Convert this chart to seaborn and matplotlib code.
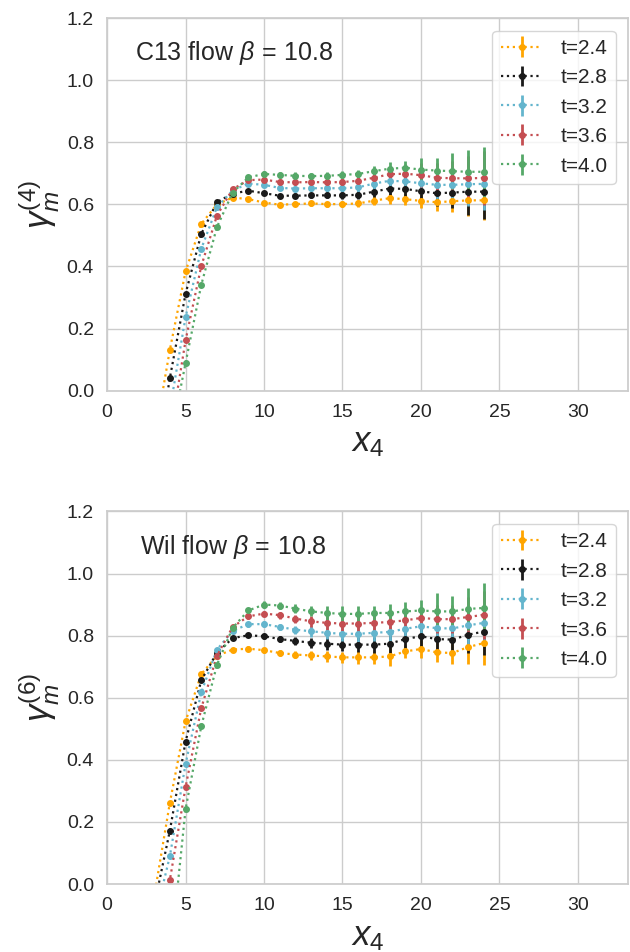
import matplotlib
matplotlib.use("Agg")
import matplotlib.pyplot as plt
import seaborn as sns

# time labels and colours (seaborn color codes)
t_labels = ["t=2.4", "t=2.8", "t=3.2", "t=3.6", "t=4.0"]
colors = ["orange", "k", "c", "r", "g"]

x4 = list(range(3, 25))

# C13 flow, gamma_m^(4)
c13_t24 = [-0.16, 0.132, 0.384, 0.537, 0.600, 0.622, 0.617, 0.606, 0.599, 0.601, 0.603,
           0.601, 0.601, 0.603, 0.612, 0.620, 0.617, 0.611, 0.607, 0.610, 0.613, 0.613]
c13_t28 = [-0.27, 0.041, 0.312, 0.505, 0.607, 0.635, 0.644, 0.636, 0.628, 0.628, 0.629,
           0.629, 0.629, 0.631, 0.641, 0.651, 0.650, 0.642, 0.636, 0.638, 0.641, 0.641]
c13_t32 = [-0.35, -0.06, 0.237, 0.457, 0.591, 0.645, 0.667, 0.663, 0.653, 0.651, 0.652,
           0.652, 0.652, 0.655, 0.667, 0.676, 0.674, 0.668, 0.663, 0.663, 0.665, 0.666]
c13_t36 = [-0.42, -0.15, 0.162, 0.401, 0.564, 0.649, 0.678, 0.680, 0.672, 0.671, 0.672,
           0.671, 0.672, 0.676, 0.686, 0.697, 0.699, 0.694, 0.686, 0.684, 0.684, 0.685]
c13_t40 = [-0.45, -0.165, 0.089, 0.341, 0.527, 0.638, 0.687, 0.698, 0.695, 0.692, 0.691,
           0.692, 0.695, 0.698, 0.707, 0.715, 0.718, 0.712, 0.709, 0.707, 0.705, 0.705]

c13_e24 = [0.02, 0.006, 0.005, 0.005, 0.005, 0.005, 0.005, 0.006, 0.006, 0.007, 0.008,
           0.008, 0.009, 0.010, 0.014, 0.018, 0.020, 0.024, 0.027, 0.035, 0.050, 0.063]
c13_e28 = [0.02, 0.006, 0.005, 0.005, 0.005, 0.005, 0.006, 0.006, 0.007, 0.008, 0.009,
           0.010, 0.011, 0.013, 0.018, 0.022, 0.026, 0.032, 0.040, 0.050, 0.075, 0.088]
c13_e32 = [0.02, 0.007, 0.005, 0.005, 0.005, 0.006, 0.006, 0.007, 0.008, 0.009, 0.010,
           0.012, 0.013, 0.015, 0.020, 0.025, 0.030, 0.036, 0.045, 0.055, 0.070, 0.085]
c13_e36 = [0.02, 0.008, 0.006, 0.005, 0.005, 0.006, 0.007, 0.008, 0.009, 0.010, 0.011,
           0.013, 0.014, 0.017, 0.022, 0.028, 0.032, 0.038, 0.046, 0.056, 0.072, 0.086]
c13_e40 = [0.02, 0.008, 0.006, 0.005, 0.006, 0.007, 0.008, 0.009, 0.010, 0.011, 0.011,
           0.011, 0.011, 0.013, 0.018, 0.023, 0.023, 0.036, 0.040, 0.058, 0.071, 0.081]

# Wilson flow, gamma_m^(6)
wil_t24 = [-0.04, 0.262, 0.524, 0.676, 0.735, 0.755, 0.758, 0.753, 0.744, 0.739, 0.736,
           0.733, 0.730, 0.730, 0.730, 0.733, 0.749, 0.757, 0.746, 0.744, 0.763, 0.776]
wil_t28 = [-0.07, 0.172, 0.459, 0.656, 0.745, 0.792, 0.801, 0.798, 0.789, 0.783, 0.777,
           0.774, 0.771, 0.771, 0.771, 0.774, 0.789, 0.798, 0.789, 0.787, 0.803, 0.813]
wil_t32 = [-0.12, 0.090, 0.387, 0.617, 0.755, 0.815, 0.837, 0.837, 0.828, 0.819, 0.814,
           0.809, 0.806, 0.806, 0.809, 0.812, 0.822, 0.830, 0.824, 0.823, 0.833, 0.841]
wil_t36 = [-0.20, 0.013, 0.312, 0.566, 0.735, 0.828, 0.862, 0.871, 0.866, 0.855, 0.846,
           0.841, 0.839, 0.839, 0.841, 0.844, 0.849, 0.857, 0.853, 0.853, 0.860, 0.867]
wil_t40 = [-0.50, -0.25, 0.241, 0.508, 0.706, 0.825, 0.881, 0.900, 0.897, 0.887, 0.878,
           0.873, 0.870, 0.870, 0.873, 0.873, 0.878, 0.881, 0.878, 0.878, 0.886, 0.889]

wil_e24 = [0.02, 0.006, 0.006, 0.006, 0.006, 0.006, 0.007, 0.008, 0.009, 0.010, 0.013,
           0.018, 0.018, 0.020, 0.020, 0.030, 0.020, 0.029, 0.032, 0.035, 0.055, 0.070]
wil_e28 = [0.02, 0.006, 0.006, 0.006, 0.006, 0.006, 0.007, 0.008, 0.010, 0.012, 0.016,
           0.020, 0.022, 0.024, 0.026, 0.030, 0.030, 0.038, 0.035, 0.035, 0.059, 0.074]
wil_e32 = [0.02, 0.007, 0.006, 0.006, 0.006, 0.007, 0.008, 0.009, 0.011, 0.013, 0.017,
           0.021, 0.023, 0.025, 0.027, 0.030, 0.030, 0.037, 0.040, 0.042, 0.062, 0.076]
wil_e36 = [0.02, 0.007, 0.006, 0.006, 0.006, 0.007, 0.008, 0.009, 0.011, 0.013, 0.017,
           0.022, 0.024, 0.026, 0.027, 0.030, 0.030, 0.036, 0.045, 0.045, 0.065, 0.078]
wil_e40 = [0.02, 0.007, 0.006, 0.006, 0.007, 0.008, 0.009, 0.010, 0.012, 0.014, 0.016,
           0.024, 0.025, 0.027, 0.024, 0.030, 0.030, 0.035, 0.058, 0.048, 0.068, 0.081]

panels = [
    ("C13 flow $\\beta\\,=\\,10.8$", "$\\gamma_m^{(4)}$",
     [c13_t24, c13_t28, c13_t32, c13_t36, c13_t40],
     [c13_e24, c13_e28, c13_e32, c13_e36, c13_e40], 0.054),
    ("Wil flow $\\beta\\,=\\,10.8$", "$\\gamma_m^{(6)}$",
     [wil_t24, wil_t28, wil_t32, wil_t36, wil_t40],
     [wil_e24, wil_e28, wil_e32, wil_e36, wil_e40], 0.063),
]

sns.set_theme(style='whitegrid', color_codes=True)
plt.rcParams['font.family'] = ['Liberation Sans', 'DejaVu Sans']
plt.rcParams['mathtext.fontset'] = 'custom'
plt.rcParams['mathtext.rm'] = 'Liberation Sans'
plt.rcParams['mathtext.it'] = 'Liberation Sans:italic'

fig, axes = plt.subplots(2, 1, figsize=(6.3, 9.52), dpi=100)
fig.subplots_adjust(left=0.170, right=0.997, top=0.981, bottom=0.0714, hspace=0.324)

for ax, (title, ylabel, ys, es, tx) in zip(axes, panels):
    for y, e, c, lab in zip(ys, es, colors, t_labels):
        ax.errorbar(x4, y, yerr=e, fmt='o:', color=c, ms=4, lw=1.6,
                    elinewidth=2, label=lab)
    ax.set_xlim(0, 33.2)
    ax.set_ylim(0, 1.2)
    ax.set_yticks([0, 0.2, 0.4, 0.6, 0.8, 1.0, 1.2])
    ax.tick_params(labelsize=14)
    ax.set_xlabel("$x_4$", fontsize=25)
    ax.set_ylabel(ylabel, fontsize=25, labelpad=4)
    ax.text(tx, 0.905, title, transform=ax.transAxes, fontsize=18, va='center')
    ax.legend(loc='upper right', fontsize=15, handletextpad=0.85, labelspacing=0.5,
              handlelength=2.0, borderaxespad=0.6)

plt.savefig("out.png", dpi=100)
plt.close()
